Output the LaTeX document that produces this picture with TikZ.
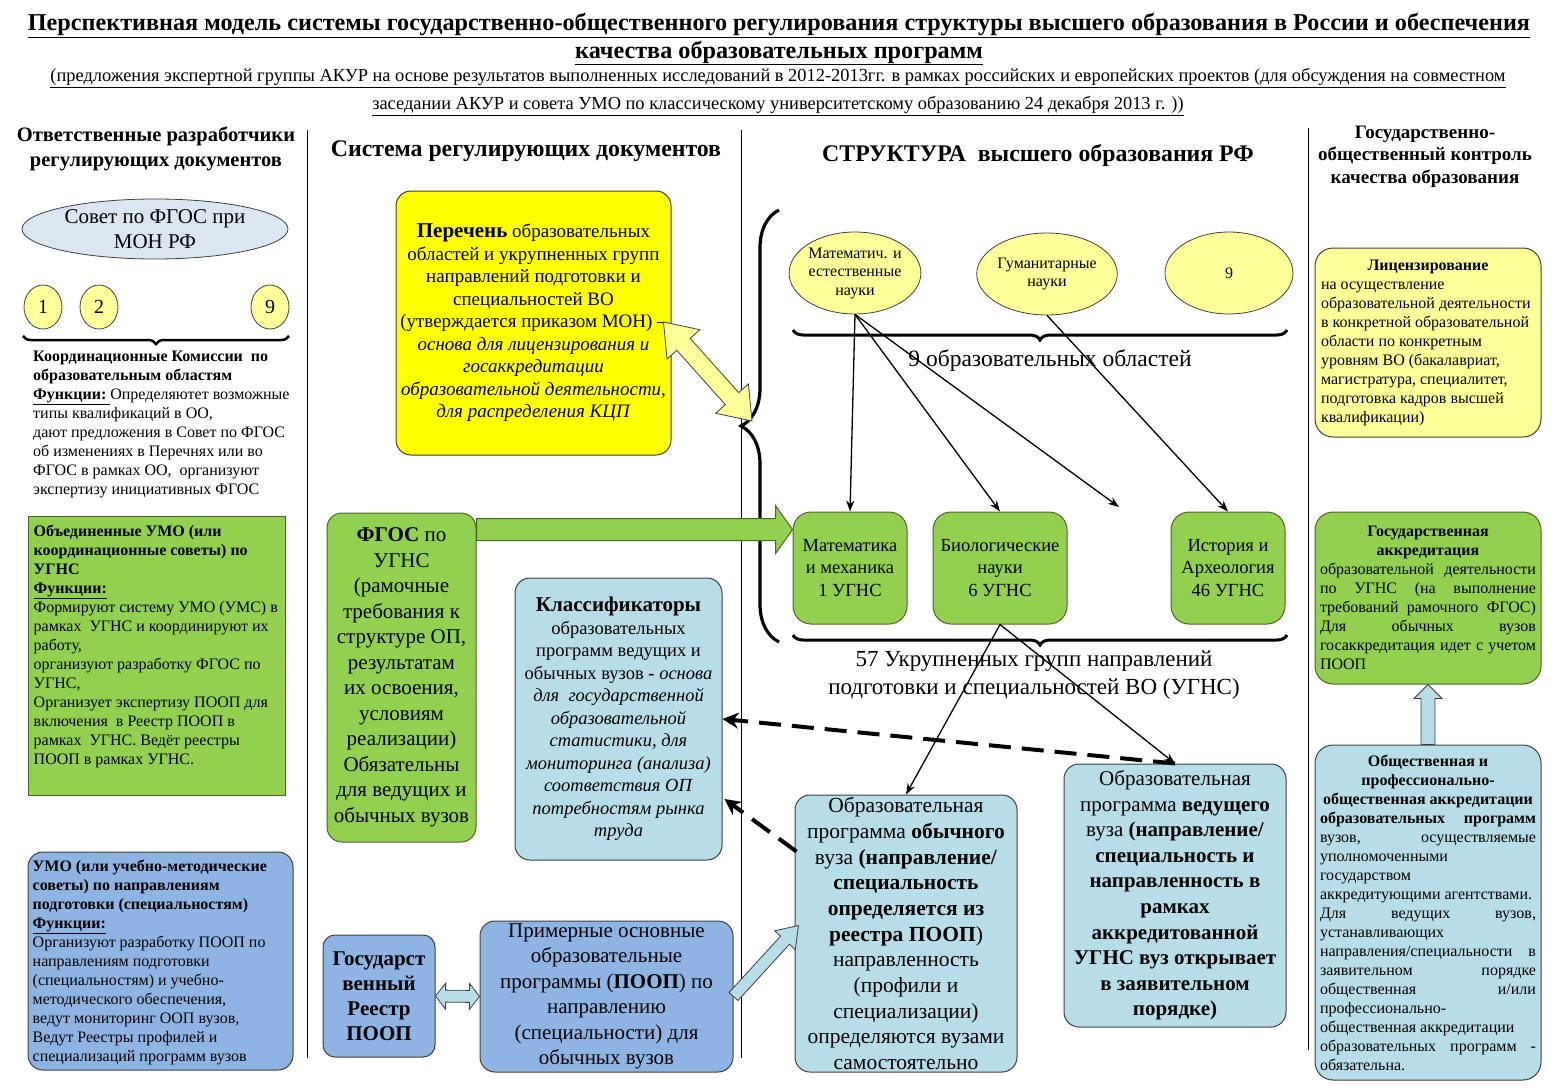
\documentclass[tikz,border=0pt]{standalone}
\usepackage{fontspec}
\setmainfont{Liberation Serif}
\usetikzlibrary{calc,arrows.meta,decorations.pathreplacing,shapes.geometric}
\definecolor{gfill}{HTML}{92D050}
\definecolor{gdraw}{HTML}{4F6228}
\definecolor{yfill}{HTML}{FFFF00}
\definecolor{ylight}{HTML}{FFFF99}
\definecolor{bfill}{HTML}{8EB4E3}
\definecolor{lbfill}{HTML}{B7DDE8}
\definecolor{efill}{HTML}{DCE6F2}
\definecolor{edge}{HTML}{404040}
\newcommand{\fs}[2]{\fontsize{#1}{#2}\selectfont}
% single block arrow: style, from, to, shaft half width, head half width, head length
\newcommand{\sblockarrow}[6]{%
  \path ($(#3)!#6!(#2)$) coordinate (sbhb);
  \draw[#1] ($(#2)!#4!90:(#3)$) -- ($(sbhb)!#4!90:(#3)$) -- ($(sbhb)!#5!90:(#3)$) -- (#3)
    -- ($(sbhb)!#5!-90:(#3)$) -- ($(sbhb)!#4!-90:(#3)$) -- ($(#2)!#4!-90:(#3)$) -- cycle;}
% double block arrow
\newcommand{\dblockarrow}[6]{%
  \path ($(#2)!#6!(#3)$) coordinate (dbha) ($(#3)!#6!(#2)$) coordinate (dbhb);
  \draw[#1] (#2) -- ($(dbha)!#5!90:(#3)$) -- ($(dbha)!#4!90:(#3)$) -- ($(dbhb)!#4!90:(#3)$)
    -- ($(dbhb)!#5!90:(#3)$) -- (#3) -- ($(dbhb)!#5!-90:(#3)$) -- ($(dbhb)!#4!-90:(#3)$)
    -- ($(dbha)!#4!-90:(#3)$) -- ($(dbha)!#5!-90:(#3)$) -- cycle;}
\begin{document}
\begin{tikzpicture}[x=1pt,y=-1pt,
  bx/.style={draw=edge, line width=1pt, align=center, inner sep=2pt},
  rbx/.style={bx, rounded corners=15pt},
  tarrow/.style={line width=1.3pt, -{Stealth[length=11pt,width=8pt]}},
  darrow/.style={line width=4pt, dash pattern=on 22pt off 11pt, -{Stealth[length=16pt,width=16pt]}},
  brc/.style={decorate, decoration={brace, amplitude=#1}, line width=3pt},
  mbrc/.style={decorate, decoration={brace, mirror, amplitude=#1}, line width=3pt},
  yell/.style={ellipse, draw=edge, line width=0.8pt, fill=ylight, inner sep=0, align=center}
]
\useasboundingbox (0,0) rectangle (1553,1089);

% ---------- titles ----------
\node[align=center, font=\fs{24.2}{28}\bfseries] (title) at (779,39)
  {\underline{Перспективная модель системы государственно-общественного регулирования структуры высшего образования в России и обеспечения}\\
   \underline{качества образовательных программ}};
\node[align=center, font=\fs{18.4}{28}] (sub) at (778,92)
  {\underline{(предложения экспертной группы АКУР на основе результатов выполненных исследований в 2012-2013гг. в рамках российских и европейских проектов (для обсуждения на совместном}\\
   \underline{заседании АКУР и совета УМО по классическому университетскому образованию 24 декабря 2013 г. ))}};

\node[align=center, font=\fs{20.5}{25}\bfseries] (hA) at (156,149) {Ответственные разработчики\\регулирующих документов};
\node[font=\fs{23.8}{26}\bfseries] (hB) at (526,151) {Система регулирующих документов};
\node[font=\fs{23.8}{26}\bfseries] (hC) at (1038,156) {СТРУКТУРА\ \ высшего образования РФ};
\node[align=center, font=\fs{19}{22.5}\bfseries] (hD) at (1425,156.5) {Государственно-\\общественный контроль\\качества образования};

% ---------- column separators ----------
\draw[line width=0.8pt] (307,130) -- (307,1058);
\draw[line width=0.8pt] (741,130) -- (741,1058);
\draw[line width=0.8pt] (1308,128) -- (1308,1050);

% ---------- left column ----------
\node[ellipse, draw=edge, line width=0.8pt, fill=efill, minimum width=266, minimum height=60, inner sep=0, align=center, font=\fs{21}{25}] (sovet) at (155,229) {Совет по ФГОС при\\МОН РФ};
\node[yell, minimum width=38, minimum height=44, font=\fs{20}{24}] (c1) at (43,307) {1};
\node[yell, minimum width=38, minimum height=44, font=\fs{20}{24}] (c2) at (99,307) {2};
\node[yell, minimum width=38, minimum height=44, font=\fs{20}{24}] (c9) at (270,307) {9};
\draw[mbrc=8pt, line width=2.5pt] (23,336) -- (289,336);
\node[anchor=west, align=left, inner sep=0, font=\fs{16}{19}] (kk) at (33,424.5)
  {\textbf{Координационные Комиссии\ \ по}\\
   \textbf{образовательным областям}\\
   \underline{\textbf{Функции:}\ }Определяютет возможные\\
   типы квалификаций в ОО,\\
   дают предложения в Совет по ФГОС\\
   об изменениях в Перечнях или во\\
   ФГОС в рамках ОО,\ \ организуют\\
   экспертизу инициативных ФГОС};

\node[bx, draw=gdraw, fill=gfill, minimum width=257, minimum height=279] (umo) at (156.5,655.5) {};
\node[anchor=west, align=left, inner sep=0, font=\fs{16}{19}] (umoT) at ($(umo.west)+(6,-9)$)
  {\textbf{Объединенные УМО (или}\\
   \textbf{координационные советы) по}\\
   \textbf{УГНС}\\
   \underline{\textbf{Функции:}}\\
   Формируют систему УМО (УМС) в\\
   рамках\ \ УГНС и координируют их\\
   работу,\\
   организуют разработку ФГОС по\\
   УГНС,\\
   Организует экспертизу ПООП для\\
   включения\ \ в Реестр ПООП в\\
   рамках\ \ УГНС. Ведёт реестры\\
   ПООП в рамках УГНС.};

\node[rbx, fill=bfill, minimum width=265, minimum height=218] (umoB) at (160.5,961) {};
\node[anchor=west, align=left, inner sep=0, font=\fs{16}{19}] (umoBT) at ($(umoB.west)+(5,1)$)
  {\textbf{УМО (или учебно-методические}\\
   \textbf{советы) по направлениям}\\
   \textbf{подготовки (специальностям)}\\
   \underline{\textbf{Функции:}}\\
   Организуют разработку ПООП по\\
   направлениям подготовки\\
   (специальностям) и учебно-\\
   методического обеспечения,\\
   ведут мониторинг ООП вузов,\\
   Ведут Реестры профилей и\\
   специализаций программ вузов};

% ---------- middle column ----------
\node[rbx, fill=yfill, minimum width=275, minimum height=264, font=\fs{19}{22.5}] (per) at (533.5,323)
  {\textbf{\fs{21}{22.5}Перечень} образовательных\\
   областей и укрупненных групп\\
   направлений подготовки и\\
   специальностей ВО\\
   (утверждается приказом МОН) –\\
   \textit{основа для лицензирования и}\\
   \textit{госаккредитации}\\
   \textit{образовательной деятельности,}\\
   \textit{для распределения КЦП}};

\node[rbx, draw=gdraw, fill=gfill, minimum width=149, minimum height=329, font=\fs{21}{25.5}] (fgos) at (401.5,677.5)
  {\textbf{ФГОС} по\\ УГНС\\ (рамочные\\ требования к\\ структуре ОП,\\ результатам\\ их освоения,\\ условиям\\ реализации)\\ Обязательны\\ для ведущих и\\ обычных вузов};

\node[rbx, fill=lbfill, minimum width=207, minimum height=282, font=\fs{18.5}{22.5}] (klass) at (618.5,719)
  {\textbf{\fs{21}{22.5}Классификаторы}\\
   образовательных\\
   программ ведущих и\\
   обычных вузов \textbf{-} \textit{основа}\\
   \textit{для\ \ государственной}\\
   \textit{образовательной}\\
   \textit{статистики, для}\\
   \textit{мониторинга (анализа)}\\
   \textit{соответствия ОП}\\
   \textit{потребностям рынка}\\
   \textit{труда}};

\node[rbx, rounded corners=12pt, fill=bfill, minimum width=112, minimum height=122, font=\fs{21}{25}\bfseries] (reestr) at (379,996)
  {Государст\\венный\\Реестр\\ПООП};
\node[rbx, fill=bfill, minimum width=253, minimum height=151, font=\fs{21}{25.5}] (prim) at (606.5,996.5)
  {Примерные основные\\ образовательные\\ программы (\textbf{ПООП}) по\\ направлению\\ (специальности) для\\ обычных вузов};

% ---------- structure column ----------
\draw[brc=38pt, line width=3.2pt] (779,642) -- (779,210);
\node[yell, minimum width=124, minimum height=82, font=\fs{16}{18.5}] (e1) at (855,273) {Математич. и\\естественные\\науки};
\node[yell, minimum width=128, minimum height=82, font=\fs{16}{18.5}] (e2) at (1047,274) {Гуманитарные\\науки};
\node[yell, minimum width=128, minimum height=82, font=\fs{16}{18.5}] (e3) at (1229,273) {9};
\draw[mbrc=10pt] (793,330) -- (1287,330);
\node[font=\fs{23.5}{28}] (lab9) at (1050,361) {9 образовательных областей};

\node[rbx, rounded corners=18pt, draw=gdraw, fill=gfill, minimum width=114, minimum height=112, font=\fs{18.5}{22.5}] (m1) at (850,568) {Математика\\и механика\\1 УГНС};
\node[rbx, rounded corners=18pt, draw=gdraw, fill=gfill, minimum width=134, minimum height=112, font=\fs{18.5}{22.5}] (b6) at (1000,568) {Биологические\\науки\\6 УГНС};
\node[rbx, rounded corners=18pt, draw=gdraw, fill=gfill, minimum width=114, minimum height=112, font=\fs{18.5}{22.5}] (h46) at (1228,568) {История и\\Археология\\46 УГНС};
\coordinate (x3) at (1119,507);
\draw[mbrc=10pt] (793,635) -- (1287,635);
\node[align=center, font=\fs{23}{28}] (lab57) at (1034,675) {57 Укрупненных групп направлений\\подготовки и специальностей ВО (УГНС)};

\node[rbx, fill=lbfill, minimum width=222, minimum height=277, font=\fs{21.5}{25.7}] (obych) at (906,933.5)
  {Образовательная\\ программа \textbf{обычного}\\ вуза \textbf{(направление/}\\ \textbf{специальность}\\ \textbf{определяется из}\\ \textbf{реестра ПООП})\\ направленность\\ (профили и\\ специализации)\\ определяются вузами\\ самостоятельно};
\node[rbx, fill=lbfill, minimum width=222, minimum height=263, font=\fs{21}{25.6}] (vedush) at (1175,895.5)
  {Образовательная\\ программа \textbf{ведущего}\\ вуза \textbf{(направление/}\\ \textbf{специальность и}\\ \textbf{направленность в}\\ \textbf{рамках}\\ \textbf{аккредитованной}\\ \textbf{УГНС вуз открывает}\\ \textbf{в заявительном}\\ \textbf{порядке)}};

% ---------- right column ----------
\node[rbx, rounded corners=18pt, fill=ylight, minimum width=226, minimum height=189, align=left, font=\fs{16}{19}] (lic) at (1428,342.5)
  {\makebox[214pt]{\textbf{Лицензирование}}\\
   на осуществление\\
   образовательной деятельности\\
   в конкретной образовательной\\
   области по конкретным\\
   уровням ВО (бакалавриат,\\
   магистратура, специалитет,\\
   подготовка кадров высшей\\
   квалификации)};
\node[rbx, rounded corners=18pt, draw=gdraw, fill=gfill, minimum width=226, minimum height=172, align=left, font=\fs{16}{19}] (gacc) at (1428,598)
  {\makebox[216pt]{\textbf{Государственная}}\\
   \makebox[216pt]{\textbf{аккредитация}}\\
   \makebox[216pt][s]{образовательной деятельности}\\
   \makebox[216pt][s]{по УГНС (на выполнение}\\
   \makebox[216pt][s]{требований рамочного ФГОС)}\\
   \makebox[216pt][s]{Для обычных вузов}\\
   \makebox[216pt][s]{госаккредитация идет с учетом}\\
   ПООП};
\node[rbx, rounded corners=18pt, fill=lbfill, minimum width=226, minimum height=335, align=left, font=\fs{16}{19}] (pub) at (1428,912.5)
  {\makebox[216pt]{\textbf{Общественная и}}\\
   \makebox[216pt]{\textbf{профессионально-}}\\
   \makebox[216pt]{\textbf{общественная аккредитации}}\\
   \makebox[216pt][s]{\textbf{образовательных программ}}\\
   \makebox[216pt][s]{вузов, осуществляемые}\\
   уполномоченными\\
   государством\\
   аккредитующими агентствами.\\
   \makebox[216pt][s]{Для ведущих вузов,}\\
   устанавливающих\\
   \makebox[216pt][s]{направления/специальности в}\\
   \makebox[216pt][s]{заявительном порядке}\\
   \makebox[216pt][s]{общественная и/или}\\
   профессионально-\\
   общественная аккредитации\\
   \makebox[216pt][s]{образовательных программ -}\\
   обязательна.};

% ---------- connectors ----------
\draw[tarrow] (e1.south) -- (m1.north);
\draw[tarrow] (e1.south) -- (b6.north);
\draw[tarrow] (e1.south) -- (x3);
\draw[tarrow] (e2.south) -- (h46.north);
\draw[tarrow] (b6.south) -- (obych.north);
\draw[tarrow] (b6.south) -- (vedush.north);
\draw[darrow] (vedush.north) -- (klass.east);
\draw[darrow] ($(obych.north west)+(2,57)$) -- ($(klass.east)+(2,80)$);

\coordinate (gaS) at ($(fgos.north east)!0.052!(fgos.south east)$);
\coordinate (gaT) at ($(m1.north west)!0.16!(m1.south west)$);
\sblockarrow{draw=gdraw, fill=gfill, line width=1pt}{gaS}{gaT}{11pt}{24pt}{17pt}

\coordinate (yaS) at ($(per.east)+(-8,-1)$);
\coordinate (yaT) at (752,421);
\dblockarrow{draw=edge, fill=ylight, line width=0.8pt}{yaS}{yaT}{9pt}{22pt}{30pt}

\dblockarrow{draw=edge, fill=lbfill, line width=0.8pt}{reestr.east}{prim.west}{6pt}{13pt}{10pt}

\coordinate (paT) at ($(obych.west)+(4,-8)$);
\sblockarrow{draw=edge, fill=lbfill, line width=0.8pt}{prim.east}{paT}{6pt}{14pt}{20pt}

\sblockarrow{draw=edge, fill=lbfill, line width=0.8pt}{pub.north}{gacc.south}{7pt}{14pt}{14pt}
\end{tikzpicture}
\end{document}
